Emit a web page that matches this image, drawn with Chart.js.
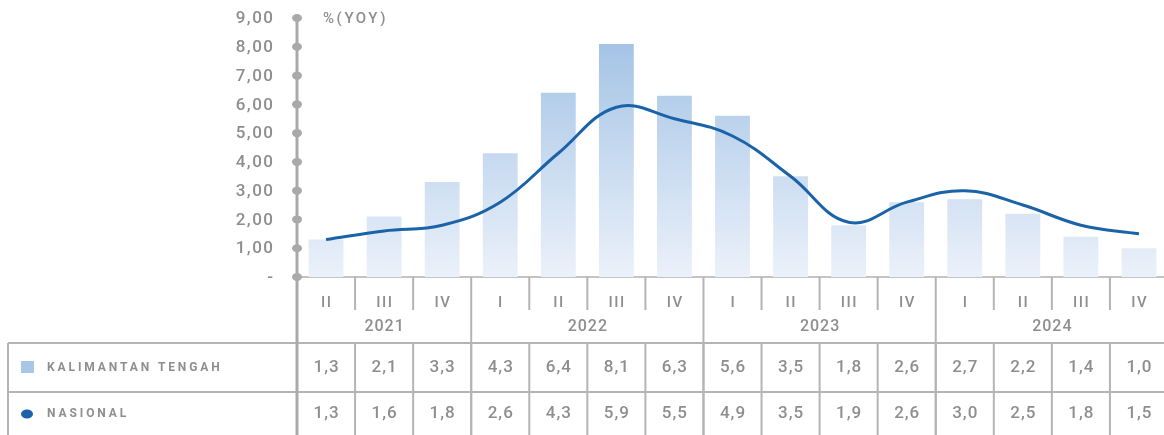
<!DOCTYPE html>
<html>
<head>
<meta charset="utf-8">
<script src="https://cdn.jsdelivr.net/npm/chart.js@4"></script>
<style>
  html, body { margin: 0; padding: 0; background: #fff; overflow: hidden; }
  #wrap { width: 1170px; height: 435px; position: relative; }
</style>
</head>
<body>
<div id="wrap"><canvas id="growthChart"></canvas></div>
<script>
// quarters shown under the x axis, years grouped below them
const quarters = ["II", "III", "IV", "I", "II", "III", "IV", "I", "II", "III", "IV", "I", "II", "III", "IV"];
const yearLabels = ["2021", "2022", "2023", "2024"];
const yearSpans = [3, 4, 4, 4];

const kaltengLabel = "KALIMANTAN TENGAH";
const nasionalLabel = "NASIONAL";
const kalteng = [1.3, 2.1, 3.3, 4.3, 6.4, 8.1, 6.3, 5.6, 3.5, 1.8, 2.6, 2.7, 2.2, 1.4, 1.0];
const nasional = [1.3, 1.6, 1.8, 2.6, 4.3, 5.9, 5.5, 4.9, 3.5, 1.9, 2.6, 3.0, 2.5, 1.8, 1.5];

const gray = "#8e8e8e";
const lineGray = "#b4b4b4";
const blue = "#1b63a8";
const font = "Roboto, 'Liberation Sans', sans-serif";

function fmt(v, digits) {
  return v.toFixed(digits).replace(".", ",");
}

// unique category keys, one per quarter
function buildCategories() {
  const cats = [];
  let q = 0;
  for (let y = 0; y < yearLabels.length; y++) {
    for (let k = 0; k < yearSpans[y]; k++) {
      cats.push(quarters[q] + " " + yearLabels[y]);
      q++;
    }
  }
  return cats;
}

function barGradient(context) {
  const area = context.chart.chartArea;
  if (!area) return "#c5d9ee";
  const g = context.chart.ctx.createLinearGradient(0, area.top, 0, area.bottom);
  g.addColorStop(0, "#9dbfe3");
  g.addColorStop(1, "#ebf1fa");
  return g;
}

// text with letter spacing, centred on its visible width
function spacedText(ctx, text, px, py, spacing, align) {
  ctx.letterSpacing = spacing + "px";
  const wText = ctx.measureText(text).width - spacing;
  let sx = px;
  if (align === "center") sx = px - wText / 2;
  if (align === "right") sx = px - wText;
  ctx.textAlign = "left";
  ctx.fillText(text, sx, py);
  ctx.letterSpacing = "0px";
}

// axis, dots, tick labels and the data table under the chart
const tablePlugin = {
  id: "tablePlugin",
  beforeDatasetsDraw(chart) {
    const ctx = chart.ctx;
    const area = chart.chartArea;
    ctx.save();
    // x axis baseline
    ctx.strokeStyle = "#c4c4c4";
    ctx.lineWidth = 2;
    ctx.beginPath();
    ctx.moveTo(area.left, area.bottom);
    ctx.lineTo(area.right, area.bottom);
    ctx.stroke();
    ctx.restore();
  },
  afterDraw(chart) {
    const ctx = chart.ctx;
    const x = chart.scales.x;
    const y = chart.scales.y;
    const area = chart.chartArea;
    const n = quarters.length;
    const w = x.getPixelForValue(1) - x.getPixelForValue(0);
    const left = x.getPixelForValue(0) - w / 2;
    const bottom = chart.height;
    const rowTop = 343;
    const rowMid = 392;

    ctx.save();
    ctx.strokeStyle = lineGray;
    ctx.lineWidth = 2;

    // quarter separators and year boundaries
    let idx = 0;
    const yearStarts = [];
    for (let yi = 0; yi < yearSpans.length; yi++) {
      yearStarts.push(idx);
      idx += yearSpans[yi];
    }
    for (let i = 1; i <= n; i++) {
      const bx = left + i * w;
      const isYear = yearStarts.includes(i);
      ctx.beginPath();
      ctx.moveTo(bx, area.bottom);
      ctx.lineTo(bx, isYear ? bottom : 310);
      ctx.stroke();
      ctx.beginPath();
      ctx.moveTo(bx, rowTop);
      ctx.lineTo(bx, bottom);
      ctx.stroke();
    }
    // table horizontal lines and left border
    ctx.beginPath();
    ctx.moveTo(8, rowTop);
    ctx.lineTo(chart.width, rowTop);
    ctx.moveTo(8, rowMid);
    ctx.lineTo(chart.width, rowMid);
    ctx.moveTo(8, rowTop);
    ctx.lineTo(8, bottom);
    ctx.stroke();

    // y axis with dots
    ctx.strokeStyle = "#a9a9a9";
    ctx.lineWidth = 3;
    ctx.beginPath();
    ctx.moveTo(left, y.getPixelForValue(y.max));
    ctx.lineTo(left, bottom);
    ctx.stroke();
    ctx.font = "500 17px " + font;
    ctx.textBaseline = "middle";
    y.ticks.forEach((t) => {
      const py = y.getPixelForValue(t.value);
      ctx.fillStyle = "#a9a9a9";
      ctx.beginPath();
      ctx.ellipse(left, py, 5, 4, 0, 0, Math.PI * 2);
      ctx.fill();
      ctx.fillStyle = gray;
      spacedText(ctx, t.value === 0 ? "-" : fmt(t.value, 2), left - 24, py + 1, 1.5, "right");
    });

    // unit label
    ctx.font = "500 15px " + font;
    spacedText(ctx, "%(YOY)", left + 26, y.getPixelForValue(y.max) + 1, 2.5, "left");

    // quarter and year labels
    ctx.font = "500 15px " + font;
    for (let i = 0; i < n; i++) {
      spacedText(ctx, quarters[i], x.getPixelForValue(i), 303, 1.5, "center");
    }
    ctx.font = "500 16px " + font;
    for (let yi = 0; yi < yearLabels.length; yi++) {
      const start = left + yearStarts[yi] * w;
      const end = start + yearSpans[yi] * w;
      spacedText(ctx, yearLabels[yi], (start + end) / 2, 327, 1, "center");
    }

    // table values
    ctx.font = "500 17px " + font;
    for (let i = 0; i < n; i++) {
      const cx = x.getPixelForValue(i);
      spacedText(ctx, fmt(kalteng[i], 1), cx, 368, 1, "center");
      spacedText(ctx, fmt(nasional[i], 1), cx, 414, 1, "center");
    }

    // row legends
    ctx.fillStyle = "#a7c7e7";
    ctx.fillRect(21, 361, 13, 12);
    ctx.fillStyle = blue;
    ctx.beginPath();
    ctx.ellipse(27, 414, 6, 4.5, 0, 0, Math.PI * 2);
    ctx.fill();
    ctx.fillStyle = gray;
    ctx.font = "bold 12px " + font;
    spacedText(ctx, kaltengLabel, 47, 368, 2.9, "left");
    spacedText(ctx, nasionalLabel, 47, 414, 2.9, "left");
    ctx.restore();
  },
};

window.addEventListener("load", () => {
  const canvas = document.getElementById("growthChart");
  const config = {
    type: "bar",
    data: {
      labels: buildCategories(),
      datasets: [
        {
          type: "line",
          label: nasionalLabel,
          data: nasional,
          borderColor: blue,
          borderWidth: 3,
          pointRadius: 0,
          tension: 0.4,
          order: 0,
        },
        {
          type: "bar",
          label: kaltengLabel,
          data: kalteng,
          backgroundColor: barGradient,
          barPercentage: 0.6,
          categoryPercentage: 1,
          order: 1,
        },
      ],
    },
    options: {
      responsive: true,
      maintainAspectRatio: false,
      animation: false,
      layout: {
        padding: { left: 297, right: 2, top: 18, bottom: 158 },
      },
      plugins: {
        legend: { display: false },
        tooltip: { enabled: false },
      },
      scales: {
        x: { display: false },
        y: {
          display: false,
          min: 0,
          max: 9,
          ticks: { stepSize: 1 },
        },
      },
    },
    plugins: [tablePlugin],
  };
  new Chart(canvas.getContext("2d"), config);
});
</script>
</body>
</html>
